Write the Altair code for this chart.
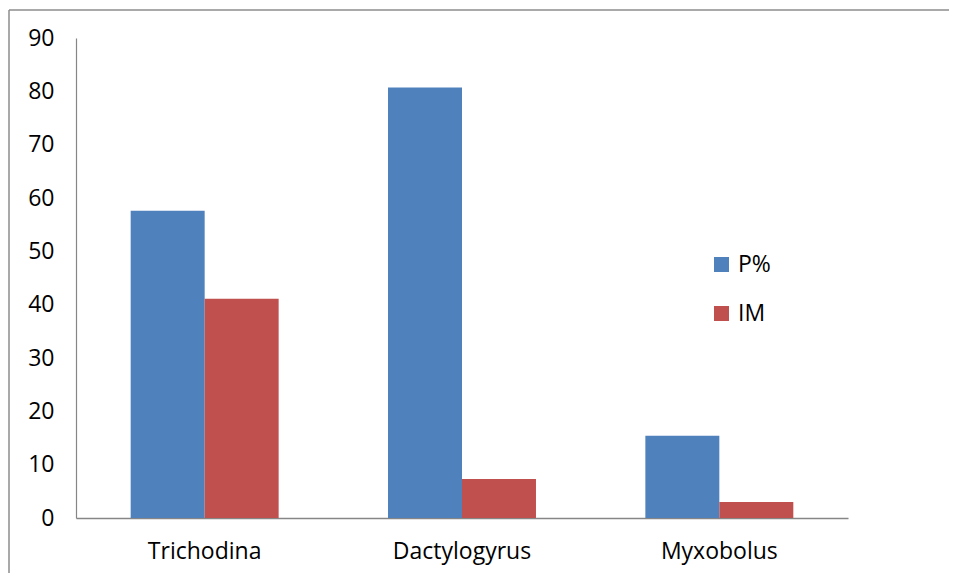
import altair as alt
import pandas as pd

categories = ["Trichodina", "Dactylogyrus", "Myxobolus"]
p_values = [57.6, 80.7, 15.4]
im_values = [41.1, 7.3, 3.0]
series = ["P%", "IM"]

rows = []
for c, p, m in zip(categories, p_values, im_values):
    rows.append({"cat": c, "series": "P%", "value": p})
    rows.append({"cat": c, "series": "IM", "value": m})
df = pd.DataFrame(rows)

FONT = "Open Sans"
FS = 23

bars = alt.Chart(df).mark_bar().encode(
    x=alt.X("cat:N", sort=categories, title=None,
            scale=alt.Scale(paddingInner=0.425, paddingOuter=0.2125),
            axis=alt.Axis(labelAngle=0, ticks=False, domainColor="#868686",
                          domainWidth=1.5, labelFontSize=FS, labelFont=FONT,
                          labelColor="#000000", labelPadding=22)),
    xOffset=alt.XOffset("series:N", sort=series, scale=alt.Scale(paddingInner=0, paddingOuter=0)),
    y=alt.Y("value:Q", title=None,
            scale=alt.Scale(domain=[0, 90]),
            axis=alt.Axis(values=list(range(0, 100, 10)), ticks=False, grid=False,
                          domainColor="#868686", domainWidth=1.2, labelFontSize=FS,
                          labelFont=FONT, labelColor="#000000", labelPadding=22)),
    color=alt.Color("series:N", sort=series,
                    scale=alt.Scale(domain=series, range=["#4F81BD", "#C0504D"]),
                    legend=alt.Legend(title=None, orient="none", legendX=634, legendY=215,
                                      symbolType="square", symbolSize=225,
                                      symbolStrokeWidth=0, labelFontSize=FS,
                                      labelFont=FONT, labelColor="#000000",
                                      rowPadding=25, labelOffset=5)),
)

frame_df = pd.DataFrame({"a": [0]})
left_line = alt.Chart(frame_df).mark_rule(color="#8c8c8c", strokeWidth=1.5).encode(
    x=alt.value(-67), y=alt.value(-28), y2=alt.value(600))
top_line = alt.Chart(frame_df).mark_rule(color="#8c8c8c", strokeWidth=1.5).encode(
    y=alt.value(-28), x=alt.value(-67), x2=alt.value(950))

chart = alt.layer(bars, left_line, top_line).properties(
    width=772, height=480,
    padding={"left": 68, "top": 30, "right": 101, "bottom": 55},
    autosize=alt.AutoSizeParams(type="none"),
    background="white",
).configure_view(strokeWidth=0, stroke=None)

chart.save("out.html", embed_options={"renderer": "svg", "actions": False})
